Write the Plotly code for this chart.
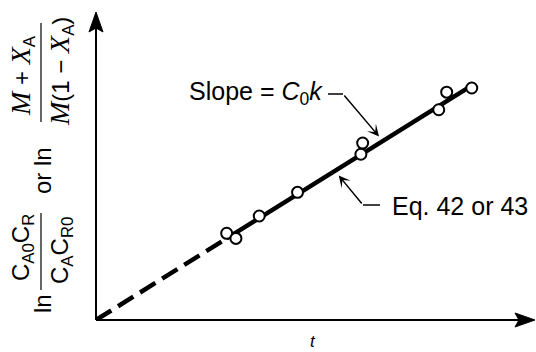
import plotly.graph_objects as go

# Measured time values and the linearised concentration function
t_obs = [2.97, 3.18, 3.71, 4.58, 6.02, 6.06, 7.79, 7.97, 8.54]
y_obs = [2.71, 2.55, 3.25, 3.99, 5.18, 5.53, 6.57, 7.12, 7.25]

# Fitted straight line through the origin: slope = C0*k
slope_c0k = 0.858
t_fit_start = 2.97   # first measured point; extrapolated (dashed) below it
t_fit_end = 8.50

# Axis extents
x_max, y_max = 10.0, 10.0

W, H = 536, 352
ML, MR, MT, MB = 96, 0, 0, 32
PW, PH = W - ML - MR, H - MT - MB


def px(xpix):
    return (xpix - ML) / PW


def py(ypix):
    return (H - MB - ypix) / PH


def dx(xpix):
    return (xpix - ML) / PW * x_max


def dy(ypix):
    return (H - MB - ypix) / PH * y_max


def path(points):
    return "M " + " L ".join(f"{px(a):.5f},{py(b):.5f}" for a, b in points) + " Z"


FONT = "Liberation Sans, Arial, sans-serif"
SERIF = "Liberation Serif, Times New Roman, serif"

fig = go.Figure()

# extrapolated part of the line back to the origin
fig.add_trace(go.Scatter(
    x=[0, t_fit_start], y=[0, slope_c0k * t_fit_start],
    mode="lines", line=dict(color="black", width=4.5, dash="18px,8px"),
    hoverinfo="skip", showlegend=False))

# fitted line over the measured range
fig.add_trace(go.Scatter(
    x=[t_fit_start, t_fit_end], y=[slope_c0k * t_fit_start, slope_c0k * t_fit_end],
    mode="lines", line=dict(color="black", width=4.5),
    hoverinfo="skip", showlegend=False))

# measured points
fig.add_trace(go.Scatter(
    x=t_obs, y=y_obs, mode="markers",
    marker=dict(size=11, color="white", line=dict(color="black", width=2)),
    showlegend=False))

ann = []

# x-axis title
ann.append(dict(x=px(313), y=py(341), xref="paper", yref="paper", text="<i>t</i>",
                showarrow=False, font=dict(family=FONT, size=17, color="black"),
                xanchor="center", yanchor="middle"))

# "Slope = C0k" label with bent leader
t_s = 6.52
ann.append(dict(x=t_s, y=slope_c0k * t_s, ax=dx(343), ay=dy(94),
                xref="x", yref="y", axref="x", ayref="y", text="", showarrow=True,
                arrowhead=3, arrowsize=1.3, arrowwidth=1.5, arrowcolor="black", standoff=6))
ann.append(dict(x=px(325), y=py(93), xref="paper", yref="paper",
                text="Slope = <i>C</i><sub>0</sub><i>k</i>", showarrow=False,
                font=dict(family=FONT, size=25, color="black"),
                xanchor="right", yanchor="middle"))

# "Eq. 42 or 43" label with bent leader
t_e = 5.43
ann.append(dict(x=t_e, y=slope_c0k * t_e, ax=dx(363), ay=dy(205),
                xref="x", yref="y", axref="x", ayref="y", text="", showarrow=True,
                arrowhead=3, arrowsize=1.3, arrowwidth=1.5, arrowcolor="black", standoff=6))
ann.append(dict(x=px(390), y=py(206), xref="paper", yref="paper",
                text="Eq. 42 or 43", showarrow=False,
                font=dict(family=FONT, size=25, color="black"),
                xanchor="left", yanchor="middle"))

# rotated y-axis title, built from pieces
yfont = dict(family=FONT, size=24, color="black")
M = f'<span style="font-family:{SERIF};font-size:28px"><i>M</i></span>'
X = f'<span style="font-family:{SERIF};font-size:28px"><i>X</i></span>'
ylabel_parts = [
    ("ln", 42, 304),
    ("C<sub>A0</sub>C<sub>R</sub>", 22, 248),
    ("C<sub>A</sub>C<sub>R0</sub>", 61, 251),
    ("or ln", 42, 171),
    (f"{M} + {X}<sub>A</sub>", 22, 76),
    (f"{M}(1 − {X}<sub>A</sub>)", 61, 72),
]
for txt, xc, yc in ylabel_parts:
    ann.append(dict(x=px(xc), y=py(yc), xref="paper", yref="paper", text=txt,
                    textangle=-90, showarrow=False, font=yfont,
                    xanchor="center", yanchor="middle"))

ox, oy = ML, H - MB          # origin of the axes in pixels
xt, yt = 535, 12             # arrow tips
shapes = [
    # axes with notched arrowheads
    dict(type="line", xref="paper", yref="paper", x0=px(ox), x1=px(xt - 16),
         y0=py(oy), y1=py(oy), line=dict(color="black", width=2)),
    dict(type="path", xref="paper", yref="paper",
         path=path([(xt, oy), (xt - 20, oy - 7), (xt - 16, oy), (xt - 20, oy + 7)]),
         fillcolor="black", line=dict(color="black", width=1)),
    dict(type="line", xref="paper", yref="paper", x0=px(ox), x1=px(ox),
         y0=py(oy), y1=py(yt + 16), line=dict(color="black", width=2)),
    dict(type="path", xref="paper", yref="paper",
         path=path([(ox, yt), (ox - 7, yt + 20), (ox, yt + 16), (ox + 7, yt + 20)]),
         fillcolor="black", line=dict(color="black", width=1)),
    # leader tails
    dict(type="line", xref="paper", yref="paper", x0=px(328), x1=px(343),
         y0=py(94), y1=py(94), line=dict(color="black", width=1.5)),
    dict(type="line", xref="paper", yref="paper", x0=px(363), x1=px(380),
         y0=py(205), y1=py(205), line=dict(color="black", width=1.5)),
    # fraction bars of the y title
    dict(type="line", xref="paper", yref="paper", x0=px(41), x1=px(41),
         y0=py(213), y1=py(290), line=dict(color="black", width=1.2)),
    dict(type="line", xref="paper", yref="paper", x0=px(41), x1=px(41),
         y0=py(23), y1=py(122), line=dict(color="black", width=1.2)),
]

fig.update_layout(
    width=W, height=H,
    margin=dict(l=ML, r=MR, t=MT, b=MB, pad=0),
    paper_bgcolor="white", plot_bgcolor="white",
    xaxis=dict(range=[0, x_max], visible=False, fixedrange=True),
    yaxis=dict(range=[0, y_max], visible=False, fixedrange=True),
    annotations=ann, shapes=shapes, showlegend=False,
)

fig.write_html("out.html")
